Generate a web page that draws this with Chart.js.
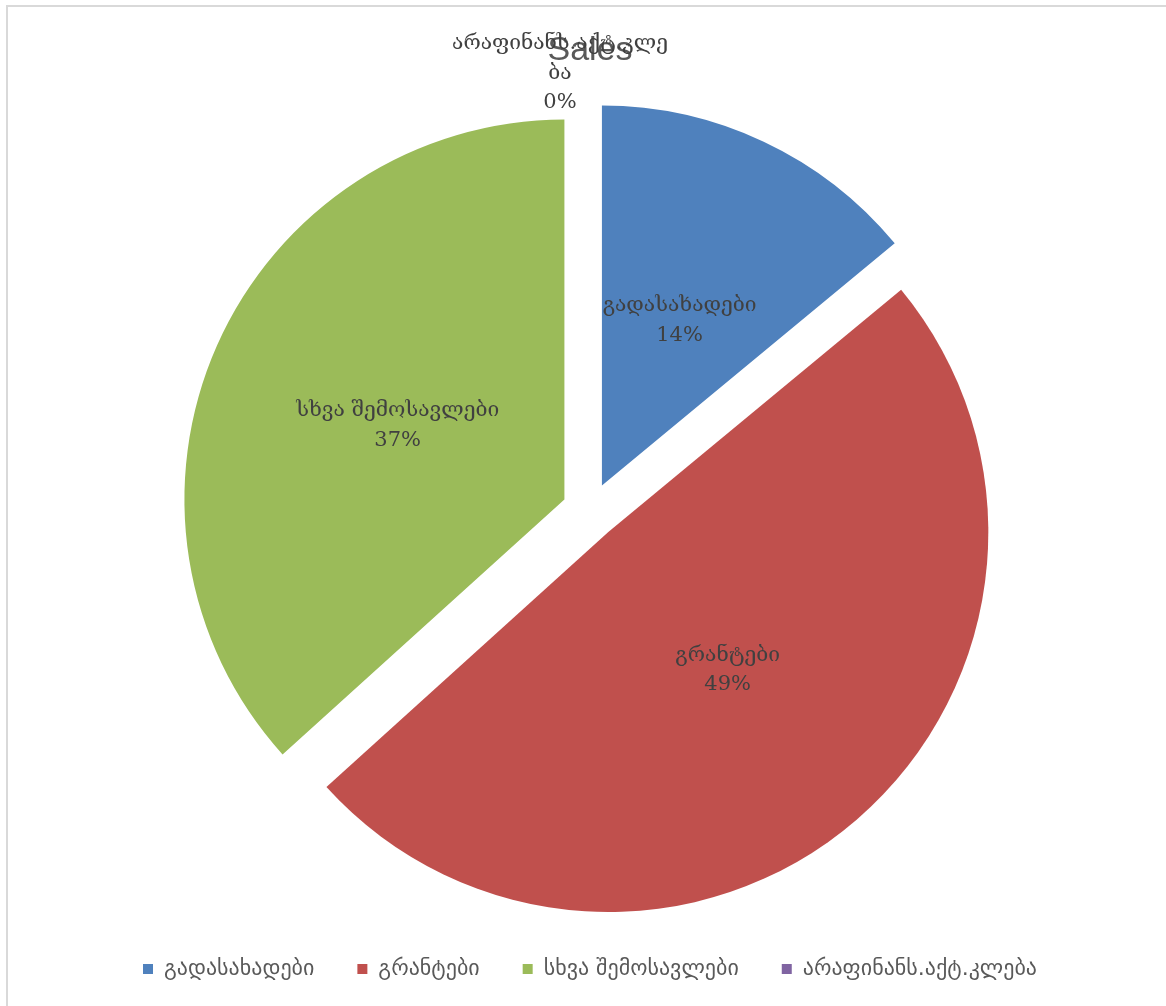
<!DOCTYPE html>
<html><head><meta charset="utf-8">
<script src="https://cdn.jsdelivr.net/npm/chart.js@4"></script>
<style>
html,body{margin:0;padding:0;background:#fff;}
#wrap{position:relative;width:1166px;height:1006px;overflow:hidden;}
#frame{position:absolute;left:6px;top:5px;width:1200px;height:1100px;border-left:2px solid #d9d9d9;border-top:2px solid #d9d9d9;}
canvas{position:absolute;left:0;top:0;}
</style></head><body>
<div id="wrap"><div id="frame"></div><canvas id="c" width="1166" height="1006"></canvas></div>
<script>
const chartTitle = 'Sales';
const categories = ['გადასახადები', 'გრანტები', 'სხვა შემოსავლები', 'არაფინანს.აქტ.კლება'];
const shares = [14.0, 49.3, 36.7, 0];
const colors = ['#4F81BD', '#C0504D', '#9BBB59', '#8064A2'];

const EXPLODE = 28;
const LINE_H = 29.5;
const OUT_WRAP = 222;

function wrapChars(ctx, text, maxW) {
  const lines = [];
  let cur = '';
  for (const ch of Array.from(text)) {
    if (cur && ctx.measureText(cur + ch).width > maxW) { lines.push(cur); cur = ch; }
    else cur += ch;
  }
  if (cur) lines.push(cur);
  return lines;
}

const explodePlugin = {
  id: 'explode',
  beforeDatasetDraw(chart, args) {
    const ctx = chart.ctx;
    args.meta.data.forEach(arc => {
      if (arc.circumference === 0) return;
      const mid = (arc.startAngle + arc.endAngle) / 2;
      ctx.save();
      ctx.translate(Math.cos(mid) * EXPLODE, Math.sin(mid) * EXPLODE);
      arc.draw(ctx);
      ctx.restore();
    });
    return false;
  }
};

const labelPlugin = {
  id: 'pieLabels',
  afterDatasetsDraw(chart) {
    const meta = chart.getDatasetMeta(0);
    const ctx = chart.ctx;
    const total = shares.reduce((a, b) => a + b, 0);
    ctx.save();
    ctx.font = '21px "DejaVu Serif"';
    ctx.fillStyle = '#404040';
    ctx.textAlign = 'center';
    ctx.textBaseline = 'middle';
    meta.data.forEach((arc, i) => {
      const mid = (arc.startAngle + arc.endAngle) / 2;
      const cx = arc.x + Math.cos(mid) * EXPLODE;
      const cy = arc.y + Math.sin(mid) * EXPLODE;
      const r = arc.outerRadius;
      const pct = Math.round(shares[i] / total * 100) + '%';
      if (shares[i] > 0) {
        const lines = [categories[i], pct];
        const lx = cx + Math.cos(mid) * r * 0.48;
        const ly = cy + Math.sin(mid) * r * 0.48;
        lines.forEach((t, k) => ctx.fillText(t, lx, ly + (k - (lines.length - 1) / 2) * LINE_H));
      } else {
        const lines = wrapChars(ctx, categories[i], OUT_WRAP).concat([pct]);
        const ox = cx + Math.cos(mid) * r - 30;
        const oy = cy + Math.sin(mid) * r;
        lines.forEach((t, k) => ctx.fillText(t, ox, oy - (lines.length - 1 - k) * LINE_H));
      }
    });
    ctx.restore();
  }
};

new Chart(document.getElementById('c'), {
  type: 'pie',
  data: {
    labels: categories,
    datasets: [{
      data: shares,
      backgroundColor: colors,
      borderWidth: 0,
      radius: 380
    }]
  },
  options: {
    responsive: false,
    animation: false,
    events: [],
    layout: { padding: { left: 14, right: 0, top: 0, bottom: 16 } },
    plugins: {
      title: {
        display: true,
        text: chartTitle,
        color: '#595959',
        font: { family: '"Liberation Sans Narrow", "Liberation Sans"', size: 34, weight: 'normal' },
        padding: { top: 30, bottom: 36 }
      },
      legend: {
        position: 'bottom',
        labels: {
          boxWidth: 10,
          boxHeight: 10,
          padding: 43,
          color: '#595959',
          font: { family: '"DejaVu Sans"', size: 22 }
        }
      },
      tooltip: { enabled: false }
    }
  },
  plugins: [explodePlugin, labelPlugin]
});
</script>
</body></html>
